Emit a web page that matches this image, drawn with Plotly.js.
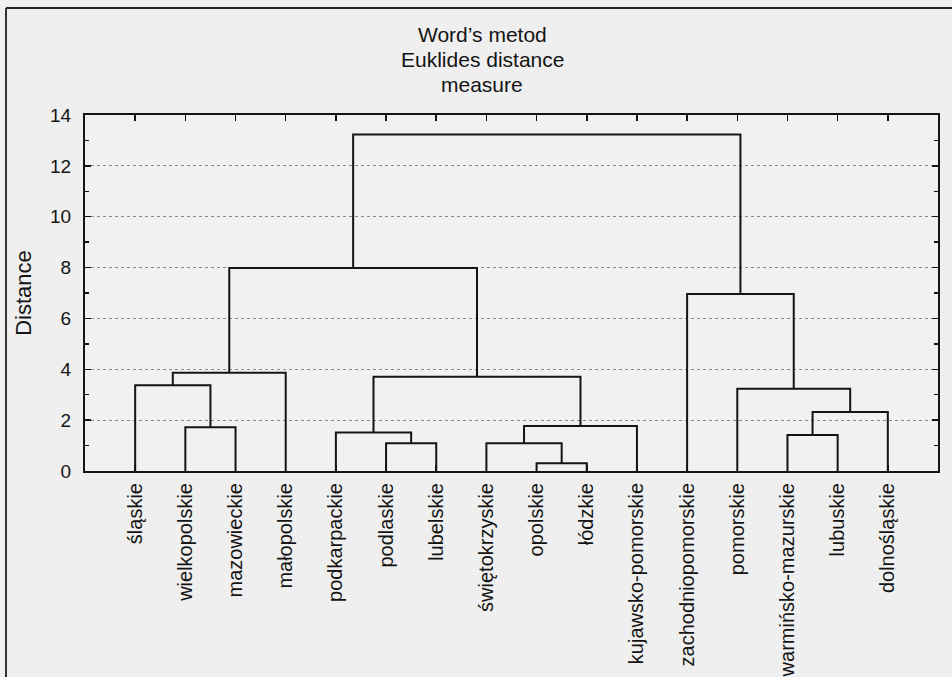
<!DOCTYPE html>
<html><head><meta charset="utf-8">
<script src="https://cdn.plot.ly/plotly-3.0.1.min.js"></script>
<style>body{margin:0;background:#efefef}</style>
</head><body><div id="chart" style="width:952px;height:677px"></div>
<script>
// Leaf order (left to right) and Ward linkage merges (scipy style: leaves 0..15, new nodes 16..)
const leafLabels = ["śląskie","wielkopolskie","mazowieckie","małopolskie","podkarpackie","podlaskie","lubelskie","świętokrzyskie","opolskie","łódzkie","kujawsko-pomorskie","zachodniopomorskie","pomorskie","warmińsko-mazurskie","lubuskie","dolnośląskie"];
const mergeLeft   = [8, 5, 7, 13, 4, 1, 18, 19, 12, 0, 20, 25, 11, 27, 29];
const mergeRight  = [9, 6, 16, 14, 17, 2, 10, 15, 23, 21, 22, 3, 24, 26, 28];
const mergeHeight = [0.30, 1.09, 1.09, 1.42, 1.51, 1.72, 1.77, 2.32, 3.23, 3.37, 3.71, 3.86, 6.96, 7.98, 13.23];
const yTicks = [0, 2, 4, 6, 8, 10, 12, 14];
const titleLines = ["Word’s metod", "Euklides distance", "measure"];

const n = leafLabels.length;
const pos = leafLabels.map((_, i) => i + 1);
const hgt = leafLabels.map(() => 0);
const xs = [], ys = [];
mergeLeft.forEach((l, k) => {
  const r = mergeRight[k], h = mergeHeight[k];
  xs.push(pos[l], pos[l], pos[r], pos[r], null);
  ys.push(hgt[l], h, h, hgt[r], null);
  pos.push((pos[l] + pos[r]) / 2);
  hgt.push(h);
});

const font = "Liberation Sans, Arial, sans-serif";
const ink = "#141414";
const trace = {x: xs, y: ys, mode: "lines", type: "scatter",
  line: {color: ink, width: 2}, hoverinfo: "skip", showlegend: false};

const H = 677;
const titleAnn = titleLines.map((t, i) => ({
  text: t, xref: "paper", yref: "paper", x: (482 - 85) / 852.7, xanchor: "center",
  y: (471 - (35 + i * 24.5)) / 356, yanchor: "middle", showarrow: false,
  font: {size: 21, family: font, color: ink}
}));

const layout = {
  width: 952, height: H,
  paper_bgcolor: "#efefef", plot_bgcolor: "#f1f1f1",
  margin: {l: 85, r: 14, t: 115, b: 206},
  font: {family: font, color: ink},
  annotations: titleAnn,
  xaxis: {range: [0, n + 1], tickvals: leafLabels.map((_, i) => i + 1), ticktext: leafLabels,
    tickangle: -90, ticks: "inside", ticklen: 6, tickcolor: ink, tickwidth: 1.5,
    showline: true, linecolor: ink, linewidth: 2, mirror: "ticks", showgrid: false, zeroline: false,
    tickfont: {size: 20, family: font, color: ink}, ticklabelstandoff: 2, fixedrange: true},
  yaxis: {range: [0, 14], tickvals: yTicks, ticks: "inside", ticklen: 6, tickcolor: ink, tickwidth: 1.5,
    showline: true, linecolor: ink, linewidth: 2, mirror: "ticks", zeroline: false,
    showgrid: true, gridcolor: "#8c8c8c", griddash: "dot", gridwidth: 1,
    minor: {dtick: 1, ticks: "inside", ticklen: 4, tickcolor: ink, showgrid: false},
    tickfont: {size: 19, family: font, color: ink}, ticklabelstandoff: 8,
    title: {text: "Distance", font: {size: 22, family: font, color: ink}, standoff: 12}, fixedrange: true},
  shapes: [
    {type: "line", xref: "paper", yref: "paper", x0: -0.0926, x1: 1.02, y0: 1.3006, y1: 1.3006, line: {color: "#222", width: 2}},
    {type: "line", xref: "paper", yref: "paper", x0: -0.0926, x1: -0.0926, y0: 1.3006, y1: -0.6, line: {color: "#333", width: 2}}
  ]
};
Plotly.newPlot("chart", [trace], layout, {displayModeBar: false, staticPlot: true});
</script></body></html>
